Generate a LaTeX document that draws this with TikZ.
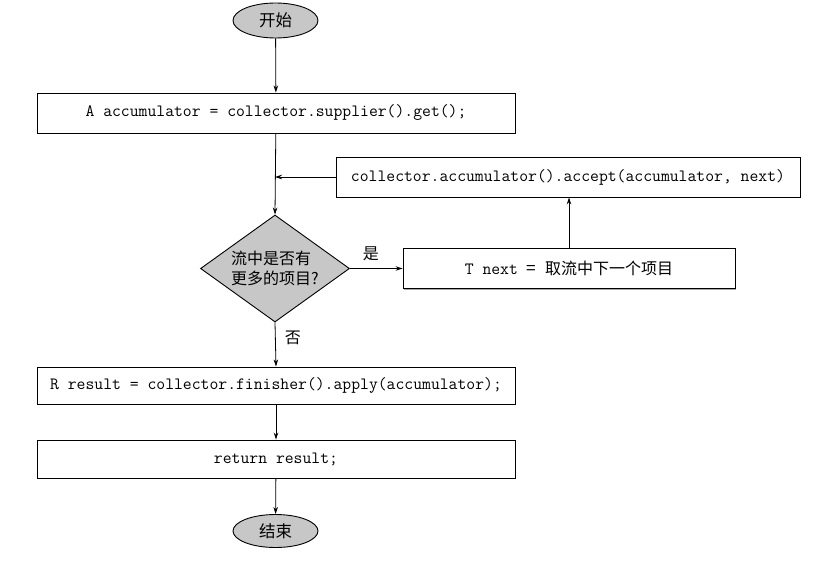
\documentclass[tikz,border=0pt]{standalone}
\usepackage{fontspec}
\newfontfamily\cjk{Noto Sans CJK SC}
\usetikzlibrary{shapes.geometric,arrows.meta,shadows}
\begin{document}
\begin{tikzpicture}[x=1pt,y=-1pt,
  codebox/.style={draw=black,line width=0.9pt,fill=white,rectangle,minimum height=40pt,inner sep=0pt,
    drop shadow={shadow xshift=1pt,shadow yshift=-1pt,fill=black!35,opacity=1},
    font=\fontsize{17.2}{18}\ttfamily},
  termnode/.style={draw=black,line width=0.9pt,fill=black!22,ellipse,minimum width=85pt,minimum height=35pt,inner sep=0pt,font=\fontsize{16.5}{18}\cjk},
  decnode/.style={draw=black,line width=0.9pt,fill=black!22,diamond,aspect=1.4,minimum width=149pt,minimum height=107pt,inner sep=0pt,align=left,font=\fontsize{16}{20}\cjk},
  flow/.style={line width=0.8pt,-{Stealth[length=7pt,width=4.5pt]}},
  lbl/.style={font=\fontsize{16}{18}\cjk,inner sep=0pt}]
\useasboundingbox (0,0) rectangle (813,572);
\node[termnode] (start) at (275.5,20.5) {开始};
\node[codebox,minimum width=478pt] (init) at (276,113) {A accumulator = collector.supplier().get();};
\node[codebox,minimum width=464pt] (acc) at (568,177) {collector.accumulator().accept(accumulator, next)};
\node[decnode] (dec) at (275,268.5) {流中是否有\\更多的项目?};
\node[codebox,minimum width=332pt] (tnext) at (569,268.5) {T next {\cjk =} {\cjk\fontsize{16}{18}\selectfont 取流中下一个项目}};
\node[codebox,minimum width=478pt,minimum height=37pt] (fin) at (276,385.5) {R result = collector.finisher().apply(accumulator);};
\node[codebox,minimum width=478pt,minimum height=38pt] (ret) at (276,459) {return result;};
\node[termnode,minimum height=33pt] (stop) at (275.5,531) {结束};
\coordinate (join) at (acc.west -| dec.north);
\draw[flow] (start) -- (init);
\draw[flow] (init) -- (dec.north);
\draw[flow] (acc.west) -- (join);
\draw[flow] (dec.east) -- node[lbl,above=7pt,pos=0.4] (yes) {是} (tnext.west);
\draw[flow] (tnext.north) -- (tnext.north |- acc.south);
\draw[flow] (dec.south) -- node[lbl,right=9pt,pos=0.35] (no) {否} (fin.north);
\draw[flow] (fin) -- (ret);
\draw[flow] (ret) -- (stop);
\end{tikzpicture}
\end{document}
